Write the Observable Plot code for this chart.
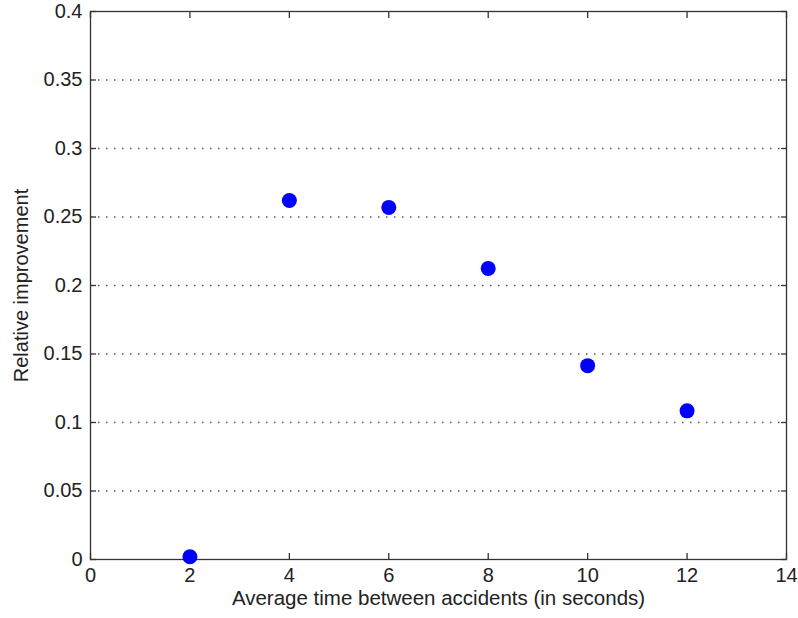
<!DOCTYPE html>
<html><head><meta charset="utf-8">
<script src="https://cdn.jsdelivr.net/npm/d3@7"></script>
<script src="https://cdn.jsdelivr.net/npm/@observablehq/plot@0.6"></script>
<style>
body{margin:0;background:#fff;}
</style></head>
<body><div id="chart"></div>
<script>
const times = [2, 4, 6, 8, 10, 12];
const improvement = [0.002, 0.262, 0.257, 0.2125, 0.1415, 0.1085];
const xTicks = [0, 2, 4, 6, 8, 10, 12, 14];
const yTicks = [0, 0.05, 0.1, 0.15, 0.2, 0.25, 0.3, 0.35, 0.4];
const yGrid = [0.05, 0.1, 0.15, 0.2, 0.25, 0.3, 0.35];
const xLabel = "Average time between accidents (in seconds)";
const yLabel = "Relative improvement";

const data = times.map((t, i) => ({t, v: improvement[i]}));

const chart = Plot.plot({
  width: 798, height: 618,
  marginLeft: 90, marginRight: 12, marginTop: 11, marginBottom: 59,
  style: {fontSize: "20px", color: "#222", background: "#fff", fontFamily: "Liberation Sans, Arial, sans-serif"},
  x: {domain: [0, 14], ticks: xTicks, label: null},
  y: {domain: [0, 0.4], ticks: yTicks, label: null},
  marks: [
    Plot.ruleY(yGrid, {stroke: "#555", strokeDasharray: "1.5,6.5", strokeWidth: 1.3}),
    Plot.frame({stroke: "#333", strokeWidth: 1.3}),
    Plot.axisX(xTicks, {anchor: "bottom", tickSize: -6, tickPadding: 14, stroke: "#333", strokeWidth: 1.3, fill: "#222", fontSize: 20, tickFormat: d => String(d), label: null}),
    Plot.axisX(xTicks, {anchor: "top", tickSize: -6, stroke: "#333", strokeWidth: 1.3, tickFormat: () => "", label: null}),
    Plot.axisY(yTicks, {anchor: "left", tickSize: -6, tickPadding: 14, stroke: "#333", strokeWidth: 1.3, fill: "#222", fontSize: 20, tickFormat: d => String(d), label: null}),
    Plot.axisY(yTicks, {anchor: "right", tickSize: -6, stroke: "#333", strokeWidth: 1.3, tickFormat: () => "", label: null}),
    Plot.dot(data, {x: "t", y: "v", r: 7.5, fill: "#0000ff", stroke: "none"}),
    Plot.text([xLabel], {frameAnchor: "bottom", dy: 45, fill: "#222", fontSize: 20.5, textAnchor: "middle"}),
    Plot.text([yLabel], {frameAnchor: "left", dx: -69, rotate: -90, fill: "#222", fontSize: 20, textAnchor: "middle"})
  ]
});
document.getElementById("chart").appendChild(chart);
</script></body></html>
